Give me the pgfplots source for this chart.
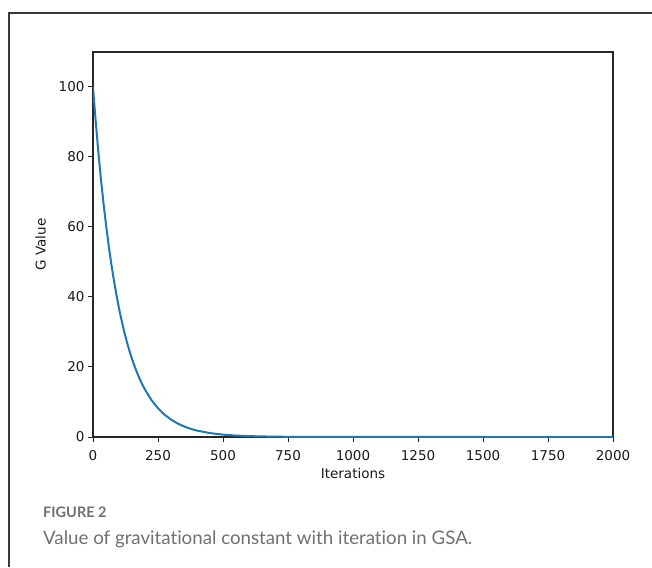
\documentclass[border=0pt]{standalone}
\usepackage{fontspec}
\setmainfont{DejaVu Sans}
\newfontfamily\capfont[Ligatures={NoCommon,NoRare,NoDiscretionary}]{Lato}
\usepackage{pgfplots}
\pgfplotsset{compat=1.18}
\definecolor{mplblue}{HTML}{1F77B4}
\definecolor{framegray}{HTML}{3A3A3A}
\definecolor{capgray}{HTML}{707070}

\begin{document}
\begin{tikzpicture}[x=1pt,y=1pt]
\useasboundingbox (0,0) rectangle (652,567);
% figure frame (top and left rules)
\draw[line width=1.4pt, color=framegray] (8,554) -- (652,554);
\draw[line width=1.4pt, color=framegray] (9,554.7) -- (9,0);
\begin{axis}[
  at={(93pt,130pt)}, anchor=south west,
  scale only axis, width=520pt, height=385pt,
  xmin=0, xmax=2000, ymin=0, ymax=110,
  xtick={0,250,...,2000}, ytick={0,20,...,100},
  xtick pos=left, ytick pos=left,
  tick align=outside, major tick length=5pt,
  tick style={line width=1pt, black!85},
  axis line style={line width=1.2pt, black!85},
  ticklabel style={font=\fontsize{13.5}{15}\selectfont, color=black!90},
  xticklabel style={yshift=-5pt},
  /pgf/number format/assume math mode=true,
  /pgf/number format/1000 sep={},
  scaled x ticks=false,
  xlabel={Iterations}, ylabel={G Value},
  label style={font=\fontsize{13.5}{15}\selectfont, color=black!90},
  xlabel style={yshift=-1pt},
  ylabel style={yshift=6pt},
]
\addplot[color=mplblue, line width=2pt] coordinates {
(0,100) (10,90.48) (20,81.87) (30,74.08) (40,67.03) (50,60.65)
(60,54.88) (70,49.66) (80,44.93) (90,40.66) (100,36.79) (110,33.29)
(120,30.12) (130,27.25) (140,24.66) (150,22.31) (160,20.19) (170,18.27)
(180,16.53) (190,14.96) (200,13.53) (225,10.54) (250,8.21) (275,6.39)
(300,4.98) (325,3.88) (350,3.02) (375,2.35) (400,1.83) (450,1.11)
(500,0.67) (550,0.41) (600,0.25) (700,0.09) (800,0.03) (1000,0.005)
(1500,0) (2000,0)
};
\end{axis}
\node[anchor=base west, inner sep=0, font=\capfont\bfseries\fontsize{14.5}{16}\selectfont, color=capgray] at (43,50) {FIGURE 2};
\node[anchor=base west, inner sep=0, font=\capfont\fontsize{18.7}{22}\selectfont, color=capgray] at (43,23) {Value of gravitational constant with iteration in GSA.};
\end{tikzpicture}
\end{document}
